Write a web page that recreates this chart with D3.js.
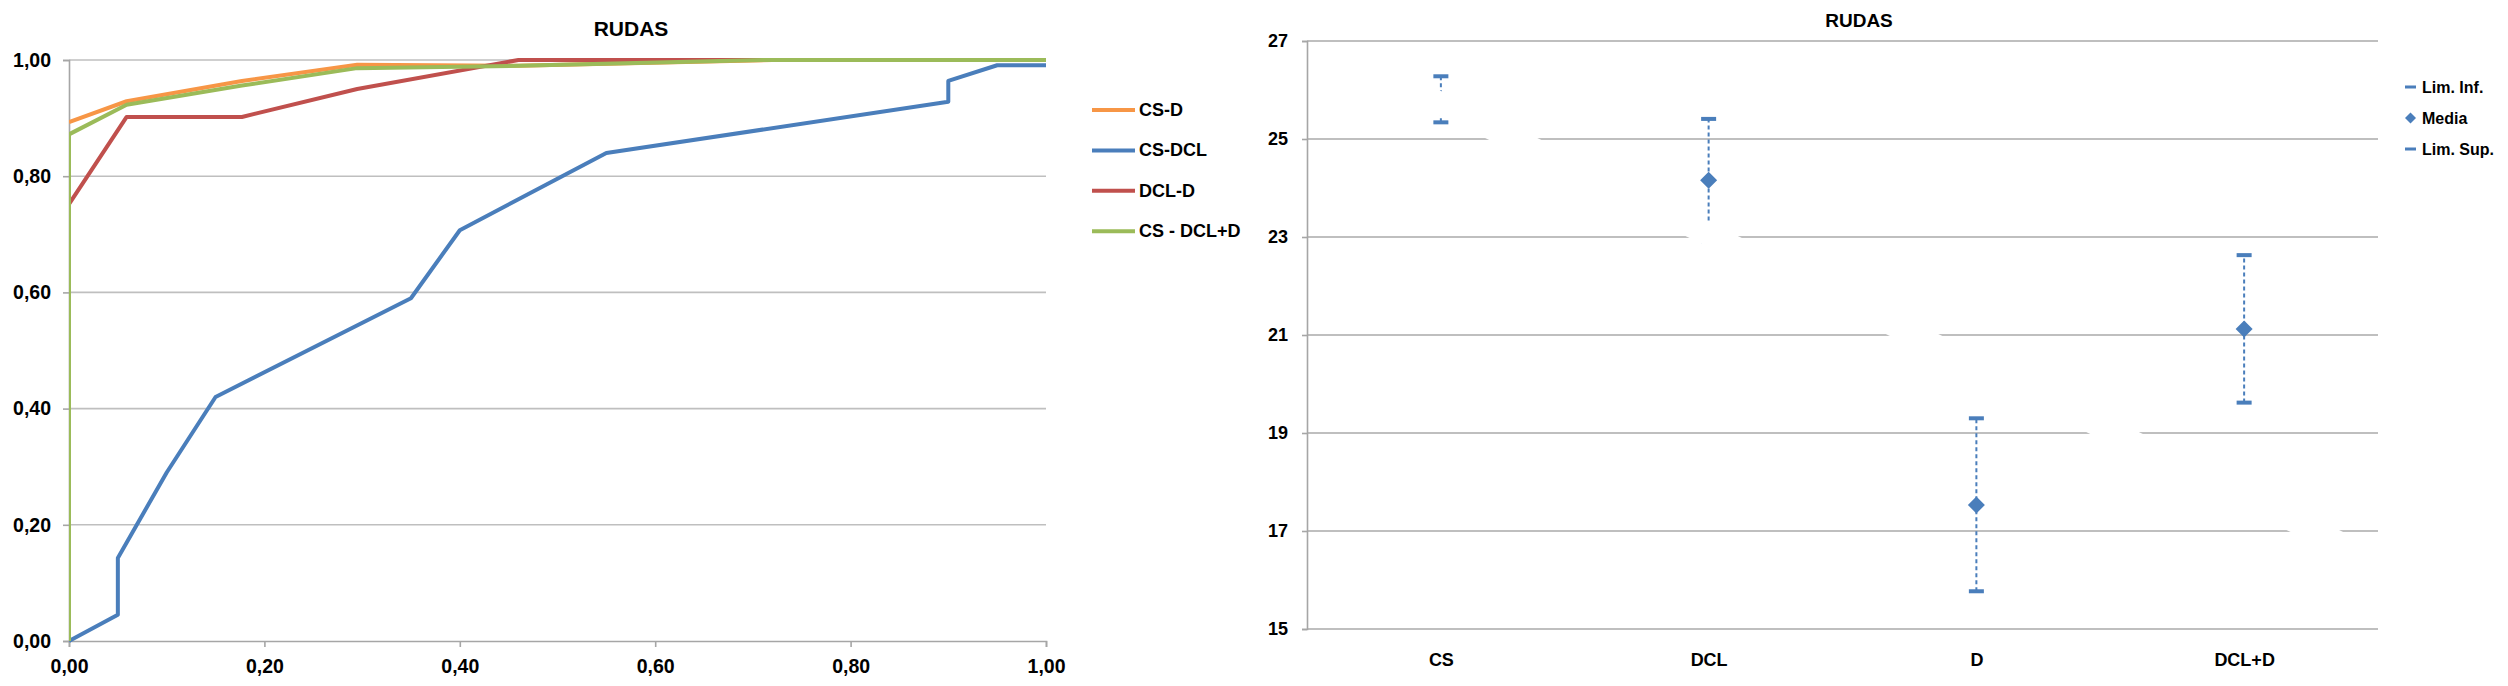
<!DOCTYPE html>
<html><head><meta charset="utf-8">
<script src="https://cdn.jsdelivr.net/npm/d3@7"></script>
<style>
body{margin:0;background:#fff}
svg{display:block}
text{font-family:"Liberation Sans",Arial,sans-serif;font-weight:bold;fill:#000}
</style>
</head><body>
<svg id="c" width="2508" height="686"></svg>
<script>
// ---------- DATA: left chart (ROC curves) ----------
const rocTitle = "RUDAS";
const rocNames = ["CS-D", "CS-DCL", "DCL-D", "CS - DCL+D"];
const csD_x   = [0, 0.059, 0.177, 0.295, 0.46, 0.72, 1];
const csD_y   = [0.893, 0.929, 0.964, 0.992, 0.99, 1, 1];
const csDCL_x = [0, 0.05, 0.05, 0.10, 0.15, 0.35, 0.40, 0.55, 0.90, 0.90, 0.95, 1.0];
const csDCL_y = [0, 0.045, 0.143, 0.29, 0.42, 0.59, 0.707, 0.84, 0.928, 0.964, 0.991, 0.991];
const dclD_x  = [0, 0.059, 0.177, 0.295, 0.46, 1];
const dclD_y  = [0.752, 0.902, 0.902, 0.95, 1, 1];
const csDclD_x = [0, 0, 0.059, 0.177, 0.295, 0.46, 0.71, 1];
const csDclD_y = [0, 0.872, 0.923, 0.956, 0.986, 0.99, 1, 1];
const rocTicks = [0, 0.2, 0.4, 0.6, 0.8, 1.0];
const rocTickLabels = ["0,00", "0,20", "0,40", "0,60", "0,80", "1,00"];

// ---------- DATA: right chart (intervals) ----------
const ciTitle = "RUDAS";
const ciCats = ["CS", "DCL", "D", "DCL+D"];
const limInf = [25.34, 22.91, 15.77, 19.62];
const media  = [25.81, 24.16, 17.53, 21.12];
const limSup = [26.28, 25.41, 19.30, 22.63];
const ciTicks = [15, 17, 19, 21, 23, 25, 27];
const ciTickLabels = ["15", "17", "19", "21", "23", "25", "27"];
const ciLegend = ["Lim. Inf.", "Media", "Lim. Sup."];
// hidden (white) straight series that cuts the grid in the original
const maskIdx = [-0.1, 3.5];
const maskVal = [25.99, 16.37];

// ---------- STYLES ----------
const rocColors = ["#F79646", "#4A7EBB", "#C0504D", "#9BBB59"];
const blue = "#4A7EBB";
const gridCol = "#BFBFBF";
const axisCol = "#A6A6A6";

const svg = d3.select("#c");

// ================= LEFT CHART =================
(function(){
  const L = 69, R = 1046, T = 60, B = 641;
  const x = d3.scaleLinear().domain([0, 1]).range([L, R]);
  const y = d3.scaleLinear().domain([0, 1]).range([B, T]);
  const g = svg.append("g");

  g.selectAll(".gl").data(rocTicks.filter(v => v > 0)).join("line")
    .attr("x1", L).attr("x2", R)
    .attr("y1", d => y(d)).attr("y2", d => y(d))
    .attr("stroke", gridCol).attr("stroke-width", 1.6);

  const yAx = d3.axisLeft(y).tickValues(rocTicks).tickFormat((d,i) => rocTickLabels[i]).tickSize(6).tickPadding(12);
  const xAx = d3.axisBottom(x).tickValues(rocTicks).tickFormat((d,i) => rocTickLabels[i]).tickSize(6).tickPadding(12);
  const ya = g.append("g").attr("transform", `translate(${L},0)`).call(yAx);
  const xa = g.append("g").attr("transform", `translate(0,${B})`).call(xAx);
  [ya, xa].forEach(a => {
    a.select(".domain").attr("stroke", axisCol).attr("stroke-width", 1.6);
    a.selectAll(".tick line").attr("stroke", axisCol).attr("stroke-width", 1.6);
    a.selectAll("text").attr("font-size", 19.5).attr("font-family", '"Liberation Sans",Arial,sans-serif').attr("font-weight", "bold").attr("fill", "#000");
  });

  svg.append("clipPath").attr("id", "clipL").append("rect")
    .attr("x", L).attr("y", T - 10).attr("width", R - L + 10).attr("height", B - T + 20);

  const series = [[csD_x, csD_y], [csDCL_x, csDCL_y], [dclD_x, dclD_y], [csDclD_x, csDclD_y]];
  const line = d3.line().x(d => x(d[0])).y(d => y(d[1]));
  const lg = g.append("g").attr("clip-path", "url(#clipL)");
  series.forEach((s, i) => {
    const pts = s[0].map((v, j) => [v, s[1][j]]);
    lg.append("path").attr("d", line(pts)).attr("fill", "none")
      .attr("stroke", rocColors[i]).attr("stroke-width", 4)
      .attr("stroke-linejoin", "round");
  });

  g.append("text").attr("x", 631).attr("y", 28).attr("text-anchor", "middle")
    .attr("dominant-baseline", "central").attr("font-size", 21).text(rocTitle);

  const leg = g.append("g").attr("transform", "translate(1092,110)");
  rocNames.forEach((n, i) => {
    const r = leg.append("g").attr("transform", `translate(0,${i * 40.4})`);
    r.append("line").attr("x1", 0).attr("x2", 43).attr("y1", 0).attr("y2", 0)
      .attr("stroke", rocColors[i]).attr("stroke-width", 4);
    r.append("text").attr("x", 47).attr("y", 0).attr("dominant-baseline", "central")
      .attr("font-size", 18).text(n);
  });
})();

// ================= RIGHT CHART =================
(function(){
  const L = 1307, R = 2378, T = 41, B = 629;
  const x = d3.scalePoint().domain(ciCats).range([L, R]).padding(0.5);
  const xi = d3.scaleLinear().domain([-0.5, ciCats.length - 0.5]).range([L, R]);
  const y = d3.scaleLinear().domain([15, 27]).range([B, T]);
  const g = svg.append("g");

  g.selectAll(".gr").data(ciTicks).join("line")
    .attr("x1", L).attr("x2", R)
    .attr("y1", d => y(d)).attr("y2", d => y(d))
    .attr("stroke", gridCol).attr("stroke-width", 2);

  const yAx = d3.axisLeft(y).tickValues(ciTicks).tickFormat((d,i) => ciTickLabels[i]).tickSize(5).tickPadding(14);
  const ya = g.append("g").attr("transform", `translate(${L},0)`).call(yAx);
  ya.select(".domain").attr("stroke", axisCol).attr("stroke-width", 1.6);
  ya.selectAll(".tick line").attr("stroke", axisCol).attr("stroke-width", 1.6);
  ya.selectAll("text").attr("font-size", 18).attr("font-family", '"Liberation Sans",Arial,sans-serif').attr("font-weight", "bold").attr("fill", "#000");

  const xAx = d3.axisBottom(x).tickSize(0).tickPadding(24);
  const xa = g.append("g").attr("transform", `translate(0,${B})`).call(xAx);
  xa.select(".domain").remove();
  xa.selectAll("text").attr("font-size", 18).attr("font-family", '"Liberation Sans",Arial,sans-serif').attr("font-weight", "bold").attr("fill", "#000");

  ciCats.forEach((c, i) => {
    g.append("line").attr("x1", x(c)).attr("x2", x(c))
      .attr("y1", y(limInf[i])).attr("y2", y(limSup[i]))
      .attr("stroke", blue).attr("stroke-width", 2).attr("stroke-dasharray", "4,3");
  });
  const cap = (v, cls) => g.selectAll("." + cls).data(ciCats).join("rect")
    .attr("x", d => x(d) - 7.5).attr("y", (d, i) => y(v[i]) - 2)
    .attr("width", 15).attr("height", 4).attr("fill", blue);
  cap(limInf, "ci");
  cap(limSup, "cs");
  g.selectAll(".md").data(ciCats).join("path")
    .attr("transform", (d, i) => `translate(${x(d)},${y(media[i])})`)
    .attr("d", "M0,-8.5L8.5,0L0,8.5L-8.5,0Z").attr("fill", blue);

  svg.append("clipPath").attr("id", "clipR").append("rect")
    .attr("x", L + 1).attr("y", T - 1).attr("width", R - L + 2).attr("height", B - T - 2);
  const mpts = maskIdx.map((v, j) => [xi(v), y(maskVal[j])]);
  g.append("path").attr("clip-path", "url(#clipR)")
    .attr("d", d3.line()(mpts)).attr("stroke", "#fff").attr("stroke-width", 23).attr("fill", "none");

  g.append("text").attr("x", 1859).attr("y", 20).attr("text-anchor", "middle")
    .attr("dominant-baseline", "central").attr("font-size", 19).text(ciTitle);

  const leg = g.append("g").attr("transform", "translate(2405,87)");
  ciLegend.forEach((n, i) => {
    const r = leg.append("g").attr("transform", `translate(0,${i * 31})`);
    if (i === 1) {
      r.append("path").attr("d", "M5.5,-5.5L11,0L5.5,5.5L0,0Z").attr("fill", blue);
    } else {
      r.append("rect").attr("x", 0).attr("y", -1.5).attr("width", 11).attr("height", 3).attr("fill", blue);
    }
    r.append("text").attr("x", 17).attr("y", 0).attr("dominant-baseline", "central")
      .attr("font-size", 16).text(n);
  });
})();
</script>
</body></html>
